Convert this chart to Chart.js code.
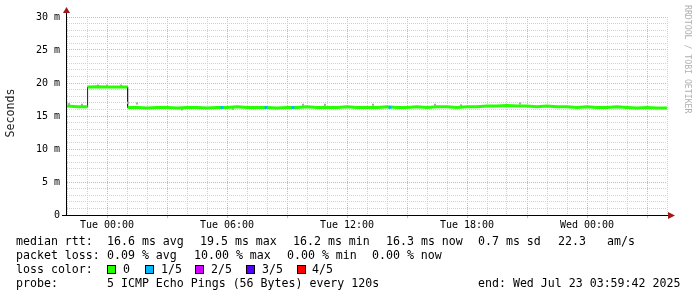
<!DOCTYPE html>
<html>
<head>
<title>Smokeping</title>
<script src="https://cdn.jsdelivr.net/npm/chart.js@4.4.0/dist/chart.umd.min.js"></script>
<style>body{margin:0;background:#fff;}</style>
</head>
<body>
<canvas id="myChart" width="697" height="297"></canvas>
<script>
// hours relative to Tue 00:00, median rtt in ms
var medianHours = [-2.0, -1.5, -0.97, -0.97, -0.5, 0.0, 0.5, 1.03, 1.03, 1.5, 2.0, 2.5, 3.0, 3.5, 4.0, 4.5, 5.0, 5.5,
  6.0, 6.5, 7.0, 7.5, 8.0, 8.5, 9.0, 9.5, 10.0, 10.5, 11.0, 11.5, 12.0, 12.5, 13.0, 13.5, 14.0, 14.5,
  15.0, 15.5, 16.0, 16.5, 17.0, 17.5, 18.0, 18.5, 19.0, 19.5, 20.0, 20.5, 21.0, 21.5, 22.0, 22.5, 23.0, 23.5,
  24.0, 24.5, 25.0, 25.5, 26.0, 26.5, 27.0, 27.5, 28.0];
var medianMs = [16.5, 16.4, 16.4, 19.4, 19.45, 19.4, 19.4, 19.4, 16.3, 16.3, 16.2, 16.3, 16.3, 16.2, 16.3, 16.3, 16.2, 16.3,
  16.3, 16.4, 16.3, 16.3, 16.3, 16.2, 16.3, 16.3, 16.4, 16.3, 16.3, 16.3, 16.4, 16.3, 16.3, 16.3, 16.4, 16.3,
  16.3, 16.4, 16.3, 16.4, 16.4, 16.3, 16.4, 16.4, 16.5, 16.5, 16.6, 16.5, 16.5, 16.4, 16.5, 16.4, 16.4, 16.3,
  16.4, 16.3, 16.3, 16.4, 16.3, 16.2, 16.3, 16.2, 16.2];
// smoke samples (grey)
var smokeHours = [-1.9, -1.25, -0.45, 0.0, 0.7, 1.05, 1.5, 3.75, 6.3, 9.8, 10.9, 13.3, 16.4, 17.7, 20.65];
var smokeMs = [16.8, 16.7, 19.6, 19.6, 19.6, 17.0, 16.9, 16.0, 16.1, 16.7, 16.7, 16.7, 16.7, 16.6, 16.9];
// samples with 1/5 loss
var loss1Hours = [5.75, 7.95, 9.3, 14.15];
var loss1Ms = [16.3, 16.3, 16.3, 16.3];

var labelHours = [0, 6, 12, 18, 24];
var timeLabels = ['Tue 00:00', 'Tue 06:00', 'Tue 12:00', 'Tue 18:00', 'Wed 00:00'];

var lossNames = ['0', '1/5', '2/5', '3/5', '4/5'];
var lossColors = ['#26ff00', '#00b8ff', '#d400ff', '#5500ff', '#ff0000'];

var legendLines = [
  ['median rtt:', '16.6 ms avg', '19.5 ms max', '16.2 ms min', '16.3 ms now', '0.7 ms sd', '22.3', 'am/s'],
  ['packet loss:', '0.09 % avg', '10.00 % max', '0.00 % min', '0.00 % now'],
  ['loss color:'],
  ['probe:', '5 ICMP Echo Pings (56 Bytes) every 120s', 'end: Wed Jul 23 03:59:42 2025']
];
var legendX = [
  [16, 107, 200, 293, 386, 478, 558, 607],
  [16, 107, 194, 287, 372],
  [16],
  [16, 107, 478]
];

function pts(xs, ys) { return xs.map(function (x, i) { return {x: x, y: ys[i]}; }); }

var MONO = 'DejaVu Sans Mono';
var PINK = '#e9abab';
var GREY = '#d2d2d2';

var decor = {
  id: 'decor',
  afterDraw: function (chart) {
    var ctx = chart.ctx, xs = chart.scales.x;
    var a = chart.chartArea;
    ctx.save();
    // axes
    ctx.strokeStyle = '#000';
    ctx.lineWidth = 1;
    ctx.beginPath();
    ctx.moveTo(62, a.bottom + 0.5); ctx.lineTo(668, a.bottom + 0.5);
    ctx.moveTo(a.left - 0.5, a.bottom + 1); ctx.lineTo(a.left - 0.5, 13);
    ctx.stroke();
    // small major ticks below x axis
    ctx.strokeStyle = PINK;
    ctx.beginPath();
    for (var h = -2; h <= 28; h++) {
      if (h % 3 === 0) {
        var px = Math.round(xs.getPixelForValue(h)) + 0.5;
        ctx.moveTo(px, a.bottom + 1); ctx.lineTo(px, a.bottom + 3);
      }
    }
    ctx.stroke();
    // arrows
    ctx.fillStyle = '#a01818';
    ctx.beginPath();
    ctx.moveTo(a.left - 0.5, 7); ctx.lineTo(a.left - 4, 13); ctx.lineTo(a.left + 3, 13); ctx.closePath();
    ctx.fill();
    ctx.beginPath();
    ctx.moveTo(675, a.bottom + 0.5); ctx.lineTo(668, a.bottom - 3); ctx.lineTo(668, a.bottom + 4); ctx.closePath();
    ctx.fill();

    // y title
    ctx.fillStyle = '#222';
    ctx.font = '11.6px "' + MONO + '"';
    ctx.textAlign = 'center';
    ctx.textBaseline = 'middle';
    ctx.save();
    ctx.translate(11, 113);
    ctx.rotate(-Math.PI / 2);
    ctx.fillText('Seconds', 0, 0);
    ctx.restore();

    // watermark
    ctx.save();
    ctx.fillStyle = '#b0b0b0';
    ctx.font = '8.2px "' + MONO + '"';
    ctx.textAlign = 'left';
    ctx.textBaseline = 'alphabetic';
    ctx.translate(685, 5);
    ctx.rotate(Math.PI / 2);
    ctx.fillText('RRDTOOL / TOBI OETIKER', 0, 0);
    ctx.restore();

    // legend
    ctx.fillStyle = '#000';
    ctx.textAlign = 'left';
    ctx.textBaseline = 'alphabetic';
    ctx.font = '11.6px "' + MONO + '"';
    var base = [245, 259, 273, 287];
    legendLines.forEach(function (line, i) {
      line.forEach(function (t, j) { ctx.fillText(t, legendX[i][j], base[i]); });
    });
    var boxX = [107, 145, 195, 246, 297];
    var labX = [123, 161, 211, 262, 312];
    lossNames.forEach(function (n, i) {
      ctx.fillStyle = lossColors[i];
      ctx.fillRect(boxX[i], 265, 9, 9);
      ctx.strokeStyle = '#000';
      ctx.strokeRect(boxX[i] + 0.5, 265.5, 8, 8);
      ctx.fillStyle = '#000';
      ctx.fillText(n, labX[i], 273);
    });
    ctx.restore();
  }
};

var ctx = document.getElementById('myChart').getContext('2d');
var chart = new Chart(ctx, {
  type: 'line',
  data: {
    datasets: [
      { label: 'loss 1/5', data: pts(loss1Hours, loss1Ms), showLine: false, pointStyle: 'rect',
        pointRadius: 2, backgroundColor: lossColors[1], borderWidth: 0, order: 0 },
      { label: 'median', data: pts(medianHours, medianMs), borderColor: lossColors[0], borderWidth: 3,
        pointRadius: 0, order: 1,
        segment: { borderColor: function (c) { return c.p0.parsed.x === c.p1.parsed.x ? 'rgba(0,0,0,0)' : undefined; } } },
      { label: 'smoke', data: pts(smokeHours, smokeMs), showLine: false, pointStyle: 'rect',
        pointRadius: 1.5, backgroundColor: '#a8a8a8', borderWidth: 0, order: 2 },
      { label: 'median line', data: pts(medianHours, medianMs), borderColor: '#202020', borderWidth: 1,
        pointRadius: 0, order: 3 }
    ]
  },
  options: {
    responsive: false,
    animation: false,
    events: [],
    layout: { padding: { top: 17, right: 30, bottom: 0, left: 0 } },
    plugins: { legend: { display: false }, tooltip: { enabled: false } },
    scales: {
      x: {
        type: 'linear', min: -2, max: 28,
        afterFit: function (s) { s.height = 82; },
        ticks: { stepSize: 1, autoSkip: false, maxRotation: 0, padding: 4, color: '#000',
          font: { family: MONO, size: 10 },
          callback: function (v) { var k = labelHours.indexOf(v); return k >= 0 ? timeLabels[k] : ''; } },
        grid: { drawTicks: false, color: function (c) { return c.tick.value % 3 === 0 ? PINK : GREY; } },
        border: { display: false, dash: [1, 1] }
      },
      y: {
        min: 0, max: 30,
        afterFit: function (s) { s.width = 67; },
        ticks: { stepSize: 1, autoSkip: false, padding: 7, color: '#000',
          font: { family: MONO, size: 10 },
          callback: function (v) { return v % 5 === 0 ? (v === 0 ? '0' : v + ' m') : ''; } },
        grid: { drawTicks: false, color: function (c) { return c.tick.value % 5 === 0 ? PINK : GREY; } },
        border: { display: false, dash: [1, 1] }
      }
    }
  },
  plugins: [decor]
});
</script>
</body>
</html>
